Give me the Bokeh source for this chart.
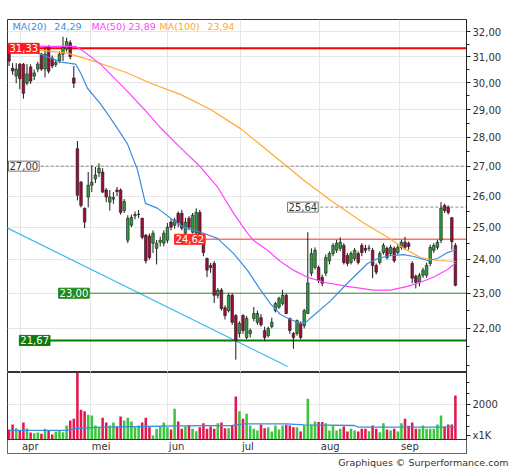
from bokeh.plotting import figure
from bokeh.layouts import column
from bokeh.models import (ColumnDataSource, Range1d, FixedTicker, CustomJSTickFormatter,
                          Label, BoxAnnotation, Span, Title)
from bokeh.embed import file_html
from bokeh.resources import INLINE
from bokeh.core.properties import value

FONT = "DejaVu Sans"

# ---------------- data ----------------
opens = [31.21, 30.55, 30.25, 30.71, 30.71, 29.98, 30.60, 30.25, 30.52, 31.10,
         30.52, 31.41, 30.95, 30.70, 30.83, 31.10, 31.30, 31.55, 30.18, 27.60,
         26.46, 25.60, 25.97, 26.36, 26.57, 26.77, 26.80, 26.20, 25.80, 25.90,
         26.20, 26.20, 25.53, 24.59, 25.06, 25.36, 25.40, 25.28, 24.75, 24.72,
         24.50, 24.34, 24.53, 24.50, 24.59, 25.16, 25.06, 25.44, 25.44, 24.81,
         25.28, 24.84, 24.81, 25.47, 24.59, 24.03, 23.82, 23.88, 22.94, 23.09,
         22.58, 22.50, 22.94, 22.36, 21.86, 22.36, 21.75, 21.86, 22.28, 22.17,
         22.30, 21.94, 21.80, 22.05, 22.50, 22.60, 22.70, 22.94, 22.28, 21.86,
         21.86, 22.14, 22.08, 22.42, 23.59, 23.76, 23.76, 23.47, 23.59, 23.96,
         24.18, 24.28, 24.34, 24.43, 24.12, 23.91, 24.03, 24.18, 24.43, 24.34,
         24.34, 24.28, 23.82, 23.91, 24.21, 24.34, 24.18, 24.34, 24.21, 24.37,
         24.53, 24.50, 23.88, 23.50, 23.32, 23.53, 23.53, 23.88, 24.28, 24.37,
         24.59, 25.69, 25.63, 25.30, 24.43]
highs = [31.30, 30.75, 30.75, 30.75, 30.75, 30.71, 30.70, 30.50, 30.80, 31.15,
         31.41, 31.45, 31.05, 30.90, 31.20, 31.79, 31.75, 31.65, 30.64, 27.87,
         26.50, 25.63, 26.80, 27.03, 26.97, 27.10, 26.93, 26.27, 26.20, 26.13,
         26.30, 26.25, 25.90, 25.38, 25.40, 25.50, 25.55, 25.30, 24.78, 24.80,
         24.90, 24.60, 24.70, 24.90, 25.13, 25.25, 25.30, 25.50, 25.55, 25.30,
         25.35, 25.45, 25.60, 25.55, 24.62, 24.06, 23.90, 23.95, 23.15, 23.15,
         22.65, 23.00, 23.00, 22.40, 22.20, 22.40, 22.35, 22.00, 22.60, 22.50,
         22.40, 22.05, 22.05, 22.30, 22.75, 22.90, 23.10, 23.00, 22.30, 21.90,
         22.25, 22.20, 22.55, 24.84, 24.34, 24.37, 23.82, 23.55, 24.15, 24.25,
         24.50, 24.60, 24.68, 24.50, 24.20, 24.25, 24.35, 24.25, 24.50, 24.45,
         24.45, 24.35, 23.88, 24.25, 24.50, 24.40, 24.45, 24.40, 24.45, 24.60,
         24.70, 24.55, 23.95, 23.55, 23.60, 23.75, 23.90, 24.45, 24.50, 24.60,
         25.80, 25.75, 25.70, 25.32, 24.50]
lows = [30.64, 30.30, 29.98, 29.75, 29.40, 29.90, 29.95, 30.10, 30.40, 30.45,
        30.20, 30.35, 30.55, 30.60, 30.75, 30.83, 31.20, 30.90, 29.80, 25.86,
        25.63, 24.97, 25.63, 26.13, 26.43, 26.63, 26.10, 25.80, 25.53, 25.75,
        26.00, 25.40, 25.45, 24.50, 25.00, 25.25, 25.28, 24.62, 23.88, 24.00,
        24.20, 23.85, 24.40, 24.40, 24.50, 24.90, 24.95, 25.00, 24.90, 24.75,
        24.90, 24.80, 24.75, 24.70, 24.10, 23.47, 23.60, 22.72, 22.85, 22.50,
        22.25, 22.45, 22.10, 21.15, 21.75, 21.85, 21.70, 21.75, 22.20, 22.10,
        22.05, 21.65, 21.75, 22.00, 22.45, 22.55, 22.65, 22.40, 21.85, 21.44,
        21.80, 21.70, 22.00, 22.40, 23.50, 23.70, 23.30, 23.20, 23.50, 23.85,
        24.10, 24.20, 24.25, 23.85, 23.80, 23.85, 23.95, 23.85, 24.10, 24.20,
        24.25, 23.44, 23.55, 23.85, 24.15, 24.00, 24.10, 23.90, 24.15, 24.30,
        24.30, 24.30, 23.29, 23.14, 23.20, 23.45, 23.45, 23.80, 24.20, 24.30,
        24.50, 25.45, 25.40, 24.30, 23.20]
closes = [30.83, 30.45, 30.52, 30.15, 29.60, 30.33, 30.06, 30.37, 30.71, 30.52,
          31.10, 30.44, 30.64, 30.77, 31.10, 31.37, 31.60, 31.00, 29.98, 26.03,
          25.69, 25.16, 26.36, 26.46, 26.70, 26.93, 26.13, 25.97, 25.97, 25.95,
          26.15, 25.47, 25.82, 25.28, 25.31, 25.40, 25.41, 24.68, 23.96, 24.06,
          24.81, 24.50, 24.59, 24.81, 25.00, 25.00, 25.22, 25.13, 24.97, 25.16,
          25.00, 25.38, 25.47, 24.75, 24.21, 23.68, 23.76, 22.94, 23.09, 22.56,
          22.36, 22.94, 22.17, 21.67, 22.14, 21.94, 22.28, 21.94, 22.42, 22.42,
          22.10, 21.75, 22.00, 22.17, 22.70, 22.85, 22.94, 22.42, 21.94, 21.75,
          22.22, 21.75, 22.50, 23.30, 24.18, 24.28, 23.38, 23.29, 24.06, 24.18,
          24.43, 24.50, 24.53, 23.91, 23.88, 24.18, 24.28, 23.91, 24.21, 24.28,
          24.35, 23.82, 23.62, 24.18, 24.43, 24.06, 24.37, 23.96, 24.37, 24.53,
          24.37, 24.40, 23.44, 23.32, 23.53, 23.68, 23.82, 24.37, 24.43, 24.53,
          25.60, 25.53, 25.47, 24.55, 23.23]
volumes = [864, 1090, 923, 818, 1182, 909, 727, 697, 727, 667,
           894, 818, 636, 773, 818, 742, 1045, 1273, 1348, 3500,
           1758, 1697, 1530, 1500, 1045, 970, 1394, 1182, 1045, 1182,
           1000, 1455, 1273, 1394, 1227, 970, 1045, 1182, 1394, 970,
           591, 894, 1000, 1182, 970, 864, 1803, 1227, 894, 1000,
           1045, 894, 788, 970, 1152, 894, 1000, 894, 1152, 1182,
           924, 924, 1045, 2364, 1697, 1348, 1576, 1045, 894, 818,
           1090, 924, 970, 773, 1045, 864, 1045, 1075, 1045, 970,
           970, 773, 1045, 2258, 1075, 1227, 1200, 1200, 1152, 818,
           1045, 818, 894, 1000, 773, 894, 818, 773, 894, 894,
           788, 1045, 894, 742, 1152, 864, 818, 894, 773, 1152,
           1348, 1030, 1182, 894, 894, 1045, 894, 894, 894, 1090,
           1500, 1000, 1090, 1090, 2409]

vol_ma_x = [0, 16, 19, 26, 38, 47, 62, 65, 77, 82, 96, 97, 124]
vol_ma_y = [820, 820, 920, 970, 1000, 1030, 1045, 1120, 1120, 1075, 1045, 975, 975]

ma20_x = [7.9, 11.5, 14.3, 16.5, 18.5, 19.9, 21.8, 25.4, 28.2, 31.0, 32.9, 35.7, 37.9,
          41.3, 44.9, 48.5, 53.2, 57.9, 62.4, 66.2, 69.9, 72.6, 75.4, 78.2, 81.0, 82.4,
          84.6, 89.3, 94.0, 99.6, 102.4, 105.9, 109.6, 112.4, 116.3, 119.0, 121.8, 124.0]
ma20_y = [31.14, 30.95, 30.79, 30.75, 30.71, 30.37, 29.79, 29.21, 28.69, 28.14, 27.77,
          26.87, 25.76, 25.60, 25.28, 25.00, 24.84, 24.65, 24.18, 23.68, 23.09, 22.70,
          22.39, 22.25, 22.14, 22.17, 22.36, 22.78, 23.29, 23.88, 24.03, 24.12, 24.15,
          24.09, 23.97, 24.03, 24.21, 24.29]
ma50_x = [7.9, 18.5, 20.7, 25.4, 32.9, 37.4, 42.1, 47.6, 53.2, 57.9, 62.4, 66.2, 67.9,
          71.8, 75.4, 79.0, 82.9, 87.4, 94.0, 101.2, 106.0, 110.7, 114.3, 117.9, 121.8, 124.0]
ma50_y = [31.41, 31.41, 31.21, 30.71, 29.67, 29.03, 28.34, 27.64, 26.97, 26.30, 25.44,
          24.81, 24.59, 24.28, 23.94, 23.68, 23.47, 23.32, 23.20, 23.09, 23.09, 23.20,
          23.32, 23.47, 23.70, 23.89]
ma100_x = [6.8, 16.2, 23.5, 32.9, 39.3, 47.6, 56.0, 64.3, 71.8, 77.4, 81.8, 89.3, 98.5,
           105.1, 109.6, 114.3, 119.0, 124.0]
ma100_y = [31.29, 31.14, 30.83, 30.37, 29.98, 29.56, 29.00, 28.31, 27.54, 26.97, 26.53,
           25.86, 25.13, 24.69, 24.34, 24.06, 23.97, 23.94]

trend_x = [-0.42, 77.4]
trend_y = [24.97, 20.97]

levels = [31.33, 27.00, 25.64, 24.62, 23.00, 21.67]
level_label_x = [-0.42, -0.42, 77.1, 45.7, 13.5, 2.6]
level_line_from = [7.4, 7.4, 85.1, 54.0, 21.3, 10.7]

month_starts = [3.2, 22.6, 44.0, 64.3, 86.2, 108.5]
month_names = ["apr", "mei", "jun", "jul", "aug", "sep"]

price_ticks = [22, 23, 24, 25, 26, 27, 28, 29, 30, 31, 32]
price_minor = [21.0, 21.5, 22.5, 23.5, 24.5, 25.5, 26.5, 27.5, 28.5, 29.5, 30.5, 31.5, 32.5]

vol_ticks = [591, 2000]          # 591 carries the "x1K" unit marker
vol_minor = [1000, 1500, 2500, 3000]
vol_unit = "x1K"

# ---------------- styling ----------------
X0, X1 = -0.42, 127.08
Y0, Y1 = 20.81, 32.49
VMIN, VMAX = -227.3, 3454.5
BAND_TOP = 409

RED_BODY, GREEN_BODY = "#9e0c3a", "#2f9a3c"
RED_VOL, GREEN_VOL = "#e3174d", "#3cc43c"
C20, C50, C100 = "#3a8ee0", "#ff44ff", "#ffaa33"


def fmt(v):
    return f"{v:.2f}".replace(".", ",")


def style_axis(ax):
    ax.axis_line_color = "#222222"
    ax.major_tick_line_color = "#222222"
    ax.minor_tick_line_color = "#222222"
    ax.major_tick_in = 0
    ax.major_tick_out = 4
    ax.minor_tick_in = 0
    ax.minor_tick_out = 3
    ax.major_label_standoff = 2
    ax.major_label_text_font = FONT
    ax.major_label_text_font_size = "10px"
    ax.major_label_text_color = "#333333"


up = [c >= o for o, c in zip(opens, closes)]
src = ColumnDataSource(dict(
    x=list(range(len(closes))),
    o=opens, h=highs, l=lows, c=closes,
    top=[max(o, c) for o, c in zip(opens, closes)],
    bottom=[min(o, c) for o, c in zip(opens, closes)],
    body=[GREEN_BODY if u else RED_BODY for u in up],
    vol=volumes,
    vcol=[GREEN_VOL if u else RED_VOL for u in up],
))

# ---------------- price panel ----------------
p1 = figure(frame_width=459, frame_height=353,
            x_range=Range1d(X0, X1), y_range=Range1d(Y0, Y1),
            y_axis_type="log", x_axis_location=None, y_axis_location="right",
            toolbar_location=None, output_backend="svg",
            min_border_left=7, min_border_top=19, min_border_bottom=0, min_border_right=44)
p1.outline_line_color = "#333333"
p1.background_fill_color = "white"
p1.border_fill_color = "white"
ax = p1.yaxis[0]
ax.ticker = FixedTicker(ticks=price_ticks, minor_ticks=price_minor)
ax.formatter = CustomJSTickFormatter(code="return tick.toFixed(2).replace('.', ',');")
style_axis(ax)
p1.ygrid.grid_line_color = "#e6e6e6"
p1.xgrid.ticker = FixedTicker(ticks=month_starts)
p1.xgrid.grid_line_color = "#e6e6e6"

# trend line
p1.line(trend_x, trend_y, line_color="#3cb8f0", line_width=1.2)

# level lines
lvl_styles = [
    dict(line_color="#ff0000", line_width=2),
    dict(line_color="#888888", line_width=1, line_dash="3 2"),
    dict(line_color="#888888", line_width=1, line_dash="3 2"),
    dict(line_color="#ff7070", line_width=1.5),
    dict(line_color="#2e8b2e", line_width=1),
    dict(line_color="#008000", line_width=2),
]
for lv, x0, st in zip(levels, level_line_from, lvl_styles):
    p1.segment(x0=[x0], y0=[lv], x1=[X1], y1=[lv], **st)

# candles
p1.segment(x0="x", y0="l", x1="x", y1="h", source=src, line_color="#1a1a1a", line_width=1)
p1.vbar(x="x", top="top", bottom="bottom", width=0.72, fill_color="body",
        line_color="#1a1a1a", line_width=0.6, source=src)

# moving averages
p1.line(ma100_x, ma100_y, line_color=C100, line_width=1.2)
p1.line(ma50_x, ma50_y, line_color=C50, line_width=1.2)
p1.line(ma20_x, ma20_y, line_color=C20, line_width=1.2)

# level labels
lab_styles = [
    ("#ff1a1a", "white", "#ff1a1a"),
    ("white", "#333333", "#777777"),
    ("white", "#333333", "#777777"),
    ("#ff2a2a", "white", "#ff2a2a"),
    ("#1f8a1f", "white", "#1f8a1f"),
    ("#0c7a0c", "white", "#0c7a0c"),
]
for lv, lx, (bg, tc, bc) in zip(levels, level_label_x, lab_styles):
    p1.add_layout(Label(x=lx, y=lv, text=fmt(lv), text_font=FONT, text_font_size="10px",
                        text_color=tc, text_align="left", text_baseline="middle",
                        x_offset=1, background_fill_color=bg, border_line_color=bc,
                        padding=1))

# legend
leg_text = ["MA(20)", fmt(ma20_y[-1]), "MA(50)", fmt(ma50_y[-1]), "MA(100)", fmt(ma100_y[-1])]
leg_x = [0.97, 12.6, 22.9, 33.2, 41.8, 55.1]
leg_col = [C20, C20, C50, C50, C100, C100]
p1.text(x=leg_x, y=[32.22] * 6, text=leg_text, text_color=leg_col,
        text_font=value(FONT), text_font_size="9.5px", text_baseline="middle", text_align="left")

# ---------------- volume panel ----------------
p2 = figure(frame_width=459, frame_height=81,
            x_range=p1.x_range, y_range=Range1d(VMIN, VMAX),
            x_axis_location=None, y_axis_location="right",
            toolbar_location=None, output_backend="svg",
            min_border_left=7, min_border_top=0, min_border_bottom=0, min_border_right=44)
p2.outline_line_color = "#333333"
p2.border_fill_color = "white"
ax2 = p2.yaxis[0]
ax2.ticker = FixedTicker(ticks=vol_ticks, minor_ticks=vol_minor)
ax2.formatter = CustomJSTickFormatter(args=dict(unit=vol_unit),
                                      code="return tick > 1500 ? tick.toFixed(0) : unit;")
style_axis(ax2)
p2.ygrid.ticker = FixedTicker(ticks=[2000])
p2.ygrid.grid_line_color = "#e6e6e6"
p2.xgrid.ticker = FixedTicker(ticks=month_starts)
p2.xgrid.grid_line_color = "#e6e6e6"

p2.vbar(x="x", top="vol", bottom=0, width=0.7, fill_color="vcol", line_color=None, source=src)
p2.line(vol_ma_x, vol_ma_y, line_color="#3a8ee0", line_width=1.3)

p2.add_layout(BoxAnnotation(top=BAND_TOP, fill_color="white", fill_alpha=1.0, line_color=None))
p2.add_layout(Span(location=BAND_TOP, dimension="width", line_color="#333333", line_width=1))
for ms, name in zip(month_starts, month_names):
    p2.add_layout(Label(x=ms + 0.4, y=(BAND_TOP + VMIN) / 2, text=name, text_font=FONT,
                        text_font_size="10px", text_color="#333333",
                        text_align="left", text_baseline="middle"))

p2.add_layout(Title(text="Graphiques \u00a9 Surperformance.com", align="right", offset=-42,
                    standoff=2, text_font=FONT, text_font_size="9.5px",
                    text_font_style="normal", text_color="#333333"), "below")

layout = column(p1, p2)
open("out.html", "w").write(file_html(layout, INLINE))
